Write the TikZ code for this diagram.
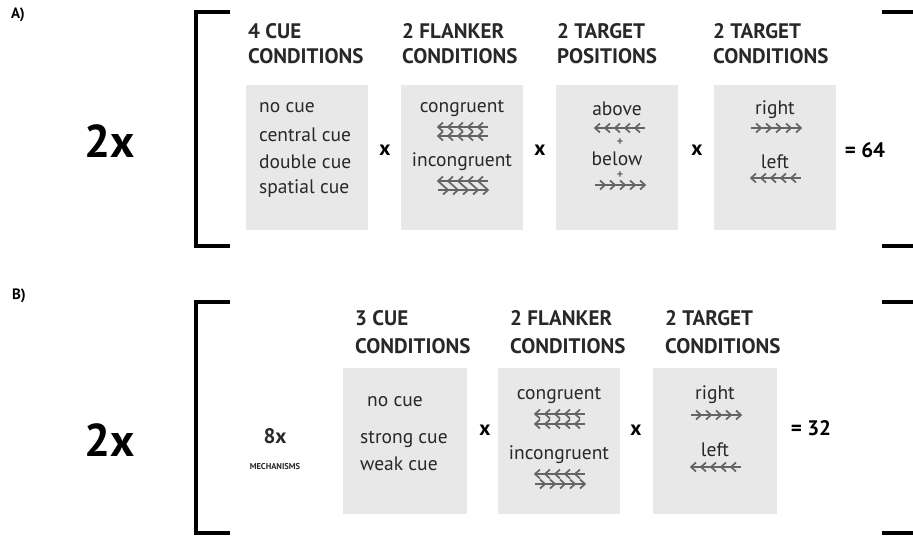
\documentclass[tikz,border=0pt]{standalone}
\usepackage{fontspec}
\setmainfont{PT Sans}
\definecolor{boxgray}{RGB}{232,232,232}
\definecolor{arrgray}{RGB}{100,100,100}
\definecolor{txtgray}{RGB}{40,40,40}
\begin{document}
\begin{tikzpicture}[x=1pt,y=-1pt,
  box/.style={fill=boxgray, minimum width=122pt, minimum height=145pt, inner sep=0pt},
  head/.style={anchor=west, font=\fontsize{21}{21}\selectfont\bfseries, text=txtgray, inner sep=0pt},
  item/.style={font=\fontsize{19.5}{19.5}\selectfont, text=txtgray, inner sep=0pt},
  op/.style={font=\fontsize{21}{21}\selectfont\bfseries, inner sep=0pt},
  big/.style={font=\fontsize{46}{46}\selectfont\bfseries, inner sep=0pt},
  lab/.style={font=\fontsize{15}{15}\selectfont\bfseries, inner sep=0pt},
  plus/.style={font=\fontsize{12}{12}\selectfont\bfseries, text=arrgray, inner sep=0pt},
  brk/.style={line width=4.5pt},
  arr/.style={draw=arrgray, line width=1.7pt},
  leftrow/.pic={\draw[arr] (-25,0) -- (25,0);
    \foreach \i in {0,...,4} \draw[arr] (-20+10*\i,-4.5) -- (-25+10*\i,0) -- (-20+10*\i,4.5);},
  rightrow/.pic={\draw[arr] (-25,0) -- (25,0);
    \foreach \i in {0,...,4} \draw[arr] (20-10*\i,-4.5) -- (25-10*\i,0) -- (20-10*\i,4.5);}]
\useasboundingbox (0,0) rectangle (913,536);

% A)
\node[lab] (labA) at (18,15) {A)};
\node[big] (twoA) at (110,141) {2x};
\draw[brk] (230,12) -- (196,12) -- (196,246) -- (230,246);
\draw[brk] (882,12) -- (913,12);
\draw[brk] (882,246) -- (913,246);

\node[head] (hcueA) at (248,31) {4 CUE};
\node[head] (hcueAb) at (248,56) {CONDITIONS};
\node[head] (hflankA) at (402,31) {2 FLANKER};
\node[head] (hflankAb) at (402,56) {CONDITIONS};
\node[head] (hposA) at (557,31) {2 TARGET};
\node[head] (hposAb) at (557,56) {POSITIONS};
\node[head] (htargA) at (713,31) {2 TARGET};
\node[head] (htargAb) at (713,56) {CONDITIONS};

\node[box] (cueA) at (307,157) {};
\node[box] (flankA) at (462,157) {};
\node[box] (posA) at (617,157) {};
\node[box] (targA) at (775,157) {};

\node[item, anchor=west] (nocueA) at (259,108) {no cue};
\node[item, anchor=west] (centralA) at (259,135) {central cue};
\node[item, anchor=west] (doubleA) at (259,162) {double cue};
\node[item, anchor=west] (spatialA) at (259,189) {spatial cue};

\node[item] (congA) at (462,108) {congruent};
\pic at (463,127) {leftrow};
\pic at (463,136) {leftrow};
\node[item] (incongA) at (462,162) {incongruent};
\pic at (463,181) {leftrow};
\pic at (463,190) {rightrow};

\node[item] (aboveA) at (617,109) {above};
\pic at (620,128) {leftrow};
\node[plus] (plusA) at (620,142) {+};
\node[item] (belowA) at (617,159) {below};
\node[plus] (plusAb) at (620,175) {+};
\pic at (620,185) {rightrow};

\node[item] (rightA) at (775,110) {right};
\pic at (776,128) {rightrow};
\node[item] (leftA) at (775,162) {left};
\pic at (776,178) {leftrow};

\node[op] (xA1) at (385,150) {x};
\node[op] (xA2) at (540,150) {x};
\node[op] (xA3) at (697,150) {x};
\node[op] (resA) at (865,150) {= 64};

% B)
\node[lab] (labB) at (19,296) {B)};
\node[big] (twoB) at (110,440) {2x};
\draw[brk] (230,302) -- (196,302) -- (196,533) -- (230,533);
\draw[brk] (882,302) -- (913,302);
\draw[brk] (882,533) -- (913,533);

\node[font=\fontsize{21}{21}\selectfont\bfseries, text=txtgray] (mechB) at (275,436) {8x};
\node[font=\fontsize{8.5}{8.5}\selectfont\bfseries, text=txtgray] (mechBb) at (275,467) {MECHANISMS};

\node[head] (hcueB) at (355,318) {3 CUE};
\node[head] (hcueBb) at (355,346) {CONDITIONS};
\node[head] (hflankB) at (510,318) {2 FLANKER};
\node[head] (hflankBb) at (510,346) {CONDITIONS};
\node[head] (htargB) at (665,318) {2 TARGET};
\node[head] (htargBb) at (665,346) {CONDITIONS};

\node[box, minimum width=124pt, minimum height=146pt] (cueB) at (405,441) {};
\node[box, minimum height=146pt] (flankB) at (559,441) {};
\node[box, minimum width=124pt, minimum height=146pt] (targB) at (715,441) {};

\node[item, anchor=west] (nocueB) at (367,402) {no cue};
\node[item, anchor=west] (strongB) at (360,439) {strong cue};
\node[item, anchor=west] (weakB) at (360,464) {weak cue};

\node[item] (congB) at (559,395) {congruent};
\pic at (560,414) {leftrow};
\pic at (560,424) {leftrow};
\node[item] (incongB) at (559,455) {incongruent};
\pic at (560,474) {leftrow};
\pic at (560,484) {rightrow};

\node[item] (rightB) at (715,395) {right};
\pic at (716,415) {rightrow};
\node[item] (leftB) at (715,450) {left};
\pic at (716,467) {leftrow};

\node[op] (xB1) at (485,430) {x};
\node[op] (xB2) at (636,430) {x};
\node[op] (resB) at (811,428) {= 32};
\end{tikzpicture}
\end{document}
